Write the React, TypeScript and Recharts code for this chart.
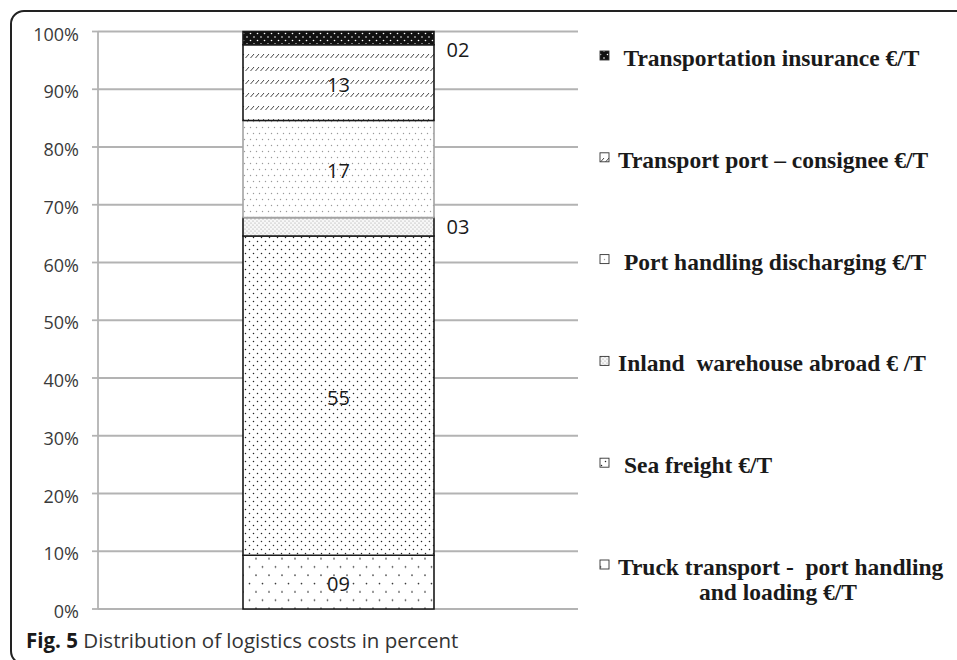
import React from 'react';
import { BarChart, Bar, XAxis, YAxis, CartesianGrid } from 'recharts';

const categories = ['Logistics costs'];
const seriesKeys = ['truck', 'sea', 'inland', 'portHandling', 'transportPort', 'insurance'];
const seriesNames = [
  ['Truck transport -  port handling', 'and loading €/T'],
  [' Sea freight €/T'],
  ['Inland  warehouse abroad € /T'],
  [' Port handling discharging €/T'],
  ['Transport port – consignee €/T'],
  [' Transportation insurance €/T'],
];
const seriesValues = [9.3, 55.3, 3.2, 16.8, 13.1, 2.3];
const valueLabels = ['09', '55', '03', '17', '13', '02'];
const outsideLabel = [false, false, true, false, false, true];
const yTicks = [0, 10, 20, 30, 40, 50, 60, 70, 80, 90, 100];

const patternIds = ['p-truck', 'p-sea', 'p-inland', 'p-port', 'p-transport', 'p-insurance'];
const strokes = ['#1a1a1a', '#1a1a1a', '#1a1a1a', '#a3a3a3', '#1a1a1a', '#1a1a1a'];

const data = categories.map((name) => {
  const row: Record<string, any> = { name };
  seriesKeys.forEach((k, i) => (row[k] = seriesValues[i]));
  return row;
});

const SANS = '"Open Sans", "Noto Sans", sans-serif';
const SERIF = '"Liberation Serif", "DejaVu Serif", serif';

const YTick = (props: any) => {
  const { x, y, payload } = props;
  return (
    <text x={x} y={y + 9} textAnchor="end" fontFamily={SANS} fontSize={18} fill="#3a3a3a">
      {payload.value}%
    </text>
  );
};

const makeLabel = (i: number) => (props: any) => {
  const { x, y, width, height } = props;
  const cy = y + height / 2;
  if (outsideLabel[i]) {
    const top = i === seriesKeys.length - 1;
    return (
      <text x={x + width + 12.5} y={cy + (top ? 11 : 0) + 7.5} textAnchor="start" fontFamily={SANS} fontSize={20} fill="#1a1a1a">
        {valueLabels[i]}
      </text>
    );
  }
  return (
    <text x={x + width / 2} y={cy + 9} textAnchor="middle" fontFamily={SANS} fontSize={20} fill="#1a1a1a">
      {valueLabels[i]}
    </text>
  );
};

const Patterns = () => (
  <defs>
    <pattern id="p-truck" width="13" height="16.6" patternUnits="userSpaceOnUse">
      <rect width="13" height="16.6" fill="#fff" />
      <circle cx="2.5" cy="2.5" r="0.85" fill="#333" />
      <circle cx="9" cy="10.8" r="0.85" fill="#333" />
    </pattern>
    <pattern id="p-sea" width="8" height="8" patternUnits="userSpaceOnUse">
      <rect width="8" height="8" fill="#fff" />
      <circle cx="1.5" cy="1.5" r="0.75" fill="#222" />
      <circle cx="5.5" cy="5.5" r="0.75" fill="#222" />
    </pattern>
    <pattern id="p-inland" width="4" height="4" patternUnits="userSpaceOnUse">
      <rect width="4" height="4" fill="#f7f7f7" />
      <circle cx="1" cy="1" r="0.6" fill="#999" />
      <circle cx="3" cy="3" r="0.6" fill="#999" />
    </pattern>
    <pattern id="p-port" width="6" height="12" patternUnits="userSpaceOnUse">
      <rect width="6" height="12" fill="#fff" />
      <circle cx="1.5" cy="1.5" r="0.7" fill="#9a9a9a" />
      <circle cx="4.5" cy="7.5" r="0.7" fill="#9a9a9a" />
    </pattern>
    <pattern id="p-transport" width="5" height="13" patternUnits="userSpaceOnUse">
      <rect width="5" height="13" fill="#fff" />
      <line x1="0.5" y1="6" x2="4" y2="2" stroke="#333" strokeWidth="0.9" />
    </pattern>
    <pattern id="p-insurance" width="7" height="7" patternUnits="userSpaceOnUse">
      <rect width="7" height="7" fill="#111" />
      <circle cx="2" cy="2" r="0.8" fill="#fff" />
      <circle cx="5.5" cy="5.5" r="0.8" fill="#fff" />
    </pattern>
  </defs>
);

const legendBaseline0 = 66;
const legendStep = 101.8;
const legendMarkerX = 600;
const legendTextX = 618;

export default function App() {
  const order = seriesKeys.map((_, i) => seriesKeys.length - 1 - i);
  return (
    <div style={{ position: 'absolute', left: 0, top: 0, width: 957, height: 660, overflow: 'hidden', background: '#fff' }}>
      <div
        style={{
          position: 'absolute',
          left: 10,
          top: 10,
          width: 1000,
          height: 655,
          boxSizing: 'border-box',
          border: '2px solid #222',
          borderRadius: 14,
        }}
      />
      <svg width={0} height={0} style={{ position: 'absolute' }}>
        <Patterns />
      </svg>
      <div style={{ position: 'absolute', left: 0, top: 0 }}>
        <BarChart width={957} height={660} data={data} margin={{ top: 31.5, right: 379, bottom: 51, left: 10 }}>
          <CartesianGrid horizontal vertical={false} stroke="#b3b3b3" strokeWidth={1.8} />
          <XAxis dataKey="name" hide />
          <YAxis
            width={88}
            domain={[0, 100]}
            ticks={yTicks}
            interval={0}
            tickSize={6}
            tickMargin={13}
            axisLine={{ stroke: '#b3b3b3', strokeWidth: 1.8 }}
            tickLine={{ stroke: '#b3b3b3', strokeWidth: 1.8 }}
            tick={<YTick />}
          />
          {seriesKeys.map((k, i) => (
            <Bar
              key={k}
              dataKey={k}
              stackId="a"
              barSize={191}
              fill={`url(#${patternIds[i]})`}
              stroke={strokes[i]}
              strokeWidth={1.6}
              isAnimationActive={false}
              label={makeLabel(i)}
            />
          ))}
        </BarChart>
      </div>
      <svg width={957} height={660} style={{ position: 'absolute', left: 0, top: 0, pointerEvents: 'none' }}>
        {order.map((si, row) => {
          const base = legendBaseline0 + row * legendStep;
          const lines = seriesNames[si];
          return (
            <g key={si}>
              <rect x={legendMarkerX} y={base - 15} width={9} height={9} fill={`url(#${patternIds[si]})`} stroke="#333" strokeWidth={0.9} />
              <text x={legendTextX} y={base} fontFamily={SERIF} fontWeight="bold" fontSize={23.5} fill="#1a1a1a" style={{ whiteSpace: 'pre' }}>
                {lines[0]}
              </text>
              {lines.length > 1 && (
                <text x={778} y={base + 25} textAnchor="middle" fontFamily={SERIF} fontWeight="bold" fontSize={23.5} fill="#1a1a1a" style={{ whiteSpace: 'pre' }}>
                  {lines[1]}
                </text>
              )}
            </g>
          );
        })}
        <text x={26} y={648} fontFamily={SANS} fontSize={20.5} fill="#333">
          <tspan fontWeight="bold" fill="#1a1a1a">Fig. 5</tspan>
          <tspan> Distribution of logistics costs in percent</tspan>
        </text>
      </svg>
    </div>
  );
}
